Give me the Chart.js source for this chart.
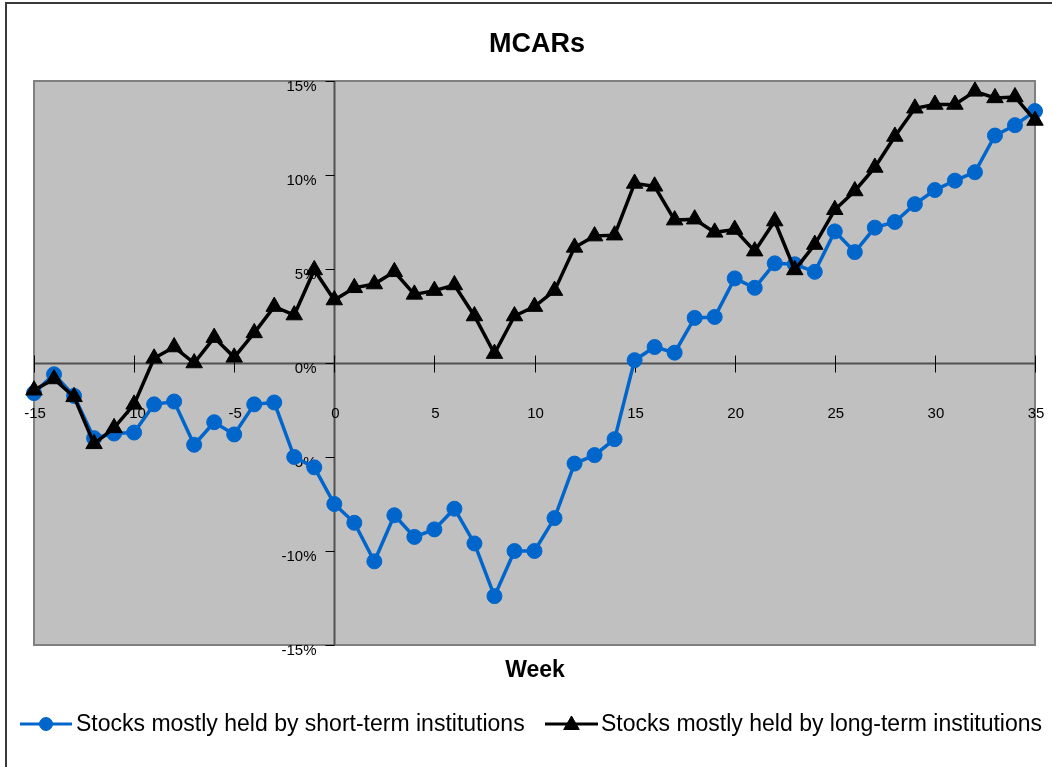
<!DOCTYPE html>
<html>
<head>
<meta charset="utf-8">
<title>MCARs</title>
<script src="https://cdn.jsdelivr.net/npm/chart.js@4/dist/chart.umd.min.js"></script>
<style>
  html, body { margin: 0; padding: 0; background: #ffffff; }
  #wrap { width: 1052px; height: 767px; position: relative; }
  canvas { display: block; }
</style>
</head>
<body>
<div id="wrap"><canvas id="chart" width="1052" height="767"></canvas></div>
<script>
// Event weeks relative to the event (week 0)
const weeks = [
  -15, -14, -13, -12, -11, -10, -9, -8, -7, -6, -5, -4, -3, -2, -1,
  0, 1, 2, 3, 4, 5, 6, 7, 8, 9, 10, 11, 12, 13, 14, 15, 16, 17, 18, 19,
  20, 21, 22, 23, 24, 25, 26, 27, 28, 29, 30, 31, 32, 33, 34, 35
];

// Mean cumulative abnormal returns, in percent
const shortTerm = [
  -1.6, -0.6, -1.75, -4.0, -3.75, -3.7, -2.2, -2.05, -4.35, -3.15, -3.8, -2.2, -2.1, -5.0, -5.55,
  -7.5, -8.5, -10.55, -8.1, -9.25, -8.85, -7.75, -9.6, -12.4, -10.0, -10.0, -8.25, -5.35, -4.9, -4.05,
  0.15, 0.85, 0.55, 2.4, 2.45, 4.5, 4.0, 5.3, 5.25, 4.85, 7.0, 5.9, 7.2, 7.5, 8.45,
  9.2, 9.7, 10.15, 12.1, 12.65, 13.4
];
const longTerm = [
  -1.45, -0.85, -1.8, -4.3, -3.45, -2.2, 0.25, 0.85, 0.0, 1.35, 0.3, 1.6, 3.0, 2.55, 4.95,
  3.35, 4.0, 4.2, 4.85, 3.65, 3.85, 4.15, 2.5, 0.5, 2.5, 3.0, 3.85, 6.15, 6.75, 6.8,
  9.55, 9.4, 7.6, 7.65, 6.95, 7.1, 5.95, 7.55, 4.95, 6.3, 8.15, 9.15, 10.4, 12.05, 13.55,
  13.75, 13.75, 14.45, 14.1, 14.15, 12.9
];

// Axis ticks
const xTicks = [-15, -10, -5, 0, 5, 10, 15, 20, 25, 30, 35];
const yTicks = [-15, -10, -5, 0, 5, 10, 15];

// Texts
const chartTitle = 'MCARs';
const xAxisTitle = 'Week';
const seriesNames = [
  'Stocks mostly held by short-term institutions',
  'Stocks mostly held by long-term institutions'
];

const FONT = '"Liberation Sans", Arial, Helvetica, sans-serif';
const BLUE = '#0066cc';
const BLACK = '#000000';

const toPoints = (xs, ys) => xs.map((x, i) => ({ x: x, y: ys[i] }));

const frameAndAxes = {
  id: 'frameAndAxes',
  beforeDraw(chart) {
    const { ctx, chartArea: a } = chart;
    ctx.save();
    ctx.fillStyle = '#ffffff';
    ctx.fillRect(0, 0, chart.width, chart.height);
    // outer chart border
    ctx.strokeStyle = '#3a3a3a';
    ctx.lineWidth = 2;
    ctx.strokeRect(6, 3, chart.width + 20, chart.height + 20);
    // plot area
    ctx.fillStyle = '#c0c0c0';
    ctx.fillRect(a.left, a.top, a.right - a.left, a.bottom - a.top);
    ctx.strokeStyle = '#808080';
    ctx.lineWidth = 2;
    ctx.strokeRect(a.left, a.top, a.right - a.left, a.bottom - a.top);
    ctx.restore();
  },
  beforeDatasetsDraw(chart) {
    const { ctx, chartArea: a } = chart;
    const xs = chart.scales.x, ys = chart.scales.y;
    const x0 = Math.round(xs.getPixelForValue(0)) + 0.5;
    const y0 = Math.round(ys.getPixelForValue(0)) + 0.5;
    ctx.save();
    // axis lines crossing at zero
    ctx.strokeStyle = '#505050';
    ctx.lineWidth = 2;
    ctx.beginPath();
    ctx.moveTo(a.left, y0); ctx.lineTo(a.right, y0);
    ctx.moveTo(x0, a.top); ctx.lineTo(x0, a.bottom);
    ctx.stroke();
    // tick marks
    ctx.strokeStyle = '#000000';
    ctx.lineWidth = 1;
    ctx.beginPath();
    xTicks.forEach(v => {
      const px = Math.round(xs.getPixelForValue(v)) + 0.5;
      ctx.moveTo(px, y0 - 8); ctx.lineTo(px, y0 + 9);
    });
    yTicks.forEach(v => {
      const py = Math.round(ys.getPixelForValue(v)) + 0.5;
      ctx.moveTo(x0 - 9, py); ctx.lineTo(x0, py);
    });
    ctx.stroke();
    // tick labels
    ctx.fillStyle = '#000000';
    ctx.font = '15px ' + FONT;
    ctx.textBaseline = 'middle';
    ctx.textAlign = 'center';
    xTicks.forEach(v => {
      ctx.fillText(String(v), xs.getPixelForValue(v) + 1, y0 + 50);
    });
    ctx.textAlign = 'right';
    yTicks.forEach(v => {
      ctx.fillText(v + '%', x0 - 18, ys.getPixelForValue(v) + 6);
    });
    ctx.restore();
  },
  afterDraw(chart) {
    const { ctx } = chart;
    ctx.save();
    ctx.fillStyle = '#000000';
    ctx.textBaseline = 'alphabetic';
    ctx.textAlign = 'center';
    ctx.font = 'bold 27px ' + FONT;
    ctx.fillText(chartTitle, 537, 52);
    ctx.font = 'bold 23px ' + FONT;
    ctx.fillText(xAxisTitle, 535, 677);

    // legend: line sample with marker, then series name
    const items = [
      { x1: 20, x2: 72, color: BLUE, style: 'circle', radius: 6.5, tx: 76, ds: 0 },
      { x1: 545, x2: 598, color: BLACK, style: 'triangle', radius: 9, tx: 601, ds: 1 }
    ];
    const ly = 724;
    items.forEach(it => {
      ctx.strokeStyle = it.color;
      ctx.lineWidth = 3;
      ctx.beginPath();
      ctx.moveTo(it.x1, ly); ctx.lineTo(it.x2, ly);
      ctx.stroke();
      ctx.fillStyle = it.color;
      ctx.strokeStyle = it.color;
      ctx.lineWidth = 1;
      Chart.helpers.drawPoint(ctx, { pointStyle: it.style, radius: it.radius, rotation: 0, borderWidth: 1 },
        (it.x1 + it.x2) / 2, it.style === 'triangle' ? ly + 1 : ly);
      ctx.fillStyle = '#000000';
      ctx.textAlign = 'left';
      ctx.font = '23px ' + FONT;
      ctx.fillText(seriesNames[it.ds], it.tx, 731);
    });
    ctx.restore();
  }
};

new Chart(document.getElementById('chart'), {
  type: 'line',
  data: {
    datasets: [
      {
        label: seriesNames[0],
        data: toPoints(weeks, shortTerm),
        borderColor: BLUE,
        backgroundColor: BLUE,
        borderWidth: 3.5,
        pointStyle: 'circle',
        pointRadius: 7.5,
        pointBorderWidth: 1,
        pointBackgroundColor: BLUE,
        pointBorderColor: BLUE,
        tension: 0,
        clip: false,
        order: 2
      },
      {
        label: seriesNames[1],
        data: toPoints(weeks, longTerm),
        borderColor: BLACK,
        backgroundColor: BLACK,
        borderWidth: 3.5,
        pointStyle: 'triangle',
        pointRadius: 9.5,
        pointBorderWidth: 1,
        pointBackgroundColor: BLACK,
        pointBorderColor: BLACK,
        tension: 0,
        clip: false,
        order: 1
      }
    ]
  },
  options: {
    responsive: false,
    animation: false,
    events: [],
    layout: { padding: { left: 34, top: 81, right: 17, bottom: 122 } },
    scales: {
      x: { type: 'linear', min: -15, max: 35, display: false },
      y: { type: 'linear', min: -15, max: 15, display: false }
    },
    plugins: {
      legend: { display: false },
      title: { display: false },
      tooltip: { enabled: false }
    }
  },
  plugins: [frameAndAxes]
});
</script>
</body>
</html>
